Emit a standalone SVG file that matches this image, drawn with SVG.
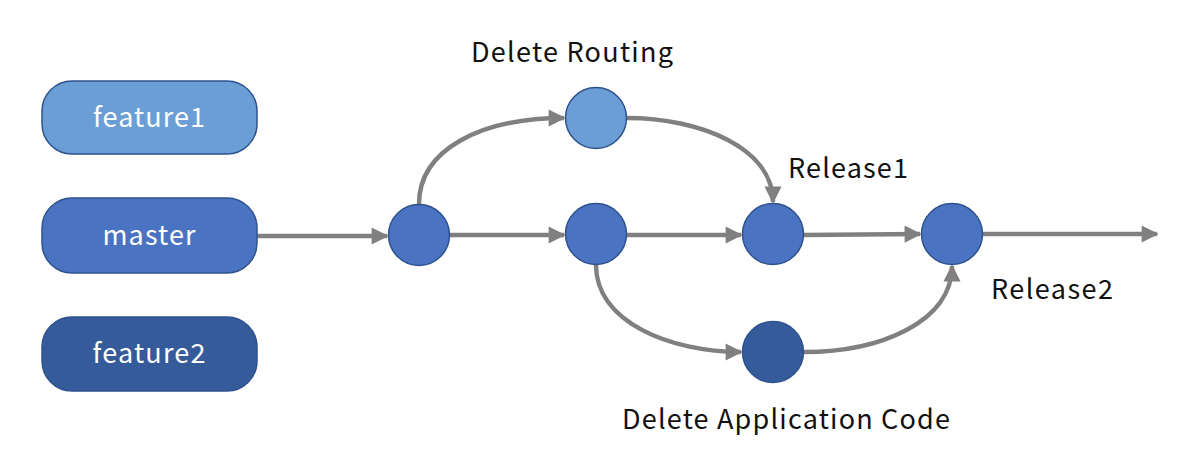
<svg xmlns="http://www.w3.org/2000/svg" width="1200" height="466" viewBox="0 0 1200 466">
<defs>
<marker id="ah" viewBox="0 0 10 10" refX="9" refY="5" markerWidth="4" markerHeight="3.8" orient="auto" markerUnits="strokeWidth">
<path d="M0,0 L10,5 L0,10 z" fill="#808080"/>
</marker>
</defs>
<style>
.box{stroke:#2F528F;stroke-width:1.5}
.c{stroke:#2F528F;stroke-width:1.5}
.bt{font-family:"Noto Sans CJK JP","Noto Sans",sans-serif;font-size:27px;fill:#ffffff;text-anchor:middle}
.lt{font-family:"Noto Sans CJK JP","Noto Sans",sans-serif;font-size:27px;fill:#111111}
.e{fill:none;stroke:#808080;stroke-width:4.5;marker-end:url(#ah)}
</style>
<rect width="1200" height="466" fill="#ffffff"/>
<g id="connectors">
<path class="e" d="M257,236 L387,236"/>
<path class="e" d="M450,235 L564,235"/>
<path class="e" d="M627,235 L741,235"/>
<path class="e" d="M804,235 L920,234"/>
<path class="e" d="M983,234 L1157,234"/>
<path class="e" d="M419,204 C419,150 480,118 564,118"/>
<path class="e" d="M627,118 C700,118 773,148 773,202"/>
<path class="e" d="M596,265 C596,322 670,352 741,352"/>
<path class="e" d="M804,352 C880,352 952,322 952,266"/>
</g>
<g id="feature1"><rect class="box" x="42" y="81" width="215" height="73" rx="30" fill="#6A9ED5"/><text class="bt" x="149" y="127" textLength="112">feature1</text></g>
<g id="master"><rect class="box" x="42" y="198" width="215" height="75" rx="30" fill="#4A74C2"/><text class="bt" x="149" y="245" textLength="93">master</text></g>
<g id="feature2"><rect class="box" x="42" y="317" width="215" height="74" rx="30" fill="#365B9B"/><text class="bt" x="149" y="363" textLength="113">feature2</text></g>
<g id="n1"><circle class="c" cx="419" cy="235" r="30.5" fill="#4A74C2"/></g>
<g id="n2"><circle class="c" cx="596" cy="234" r="30.5" fill="#4A74C2"/></g>
<g id="delete-routing"><circle class="c" cx="596" cy="118" r="30.5" fill="#6A9ED5"/><text class="lt" x="471" y="62" textLength="202">Delete Routing</text></g>
<g id="release1"><circle class="c" cx="773" cy="234" r="30.5" fill="#4A74C2"/><text class="lt" x="788" y="178" textLength="120">Release1</text></g>
<g id="release2"><circle class="c" cx="952" cy="234" r="30.5" fill="#4A74C2"/><text class="lt" x="991" y="299" textLength="122">Release2</text></g>
<g id="delete-app"><circle class="c" cx="773" cy="352" r="30.5" fill="#365B9B"/><text class="lt" x="622" y="429" textLength="328">Delete Application Code</text></g>
</svg>
